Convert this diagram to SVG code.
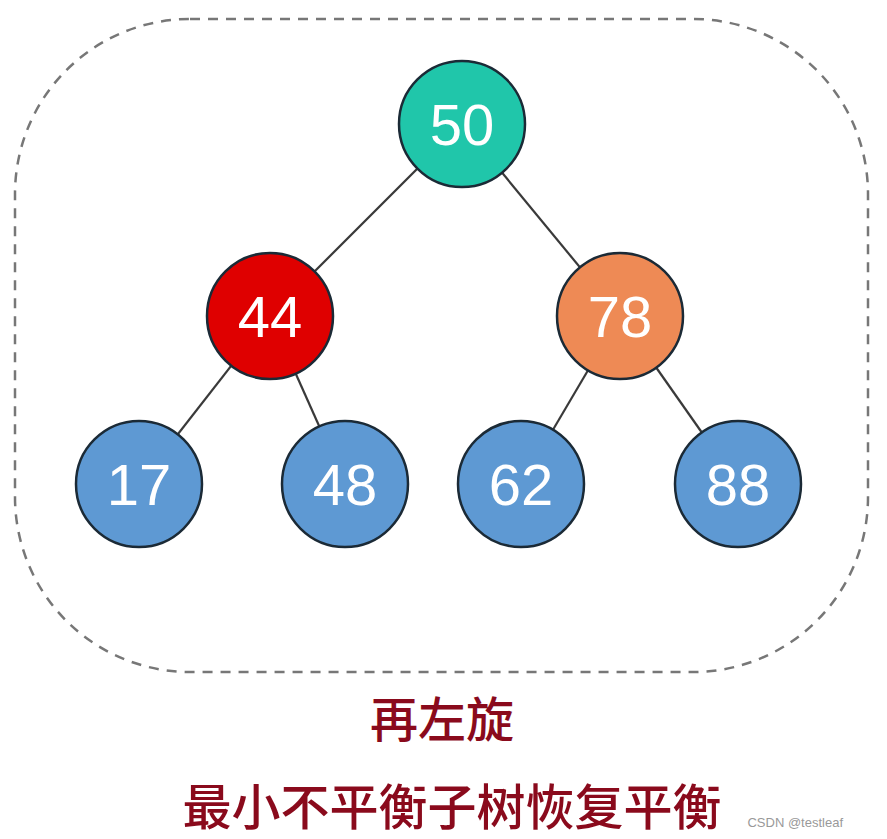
<svg xmlns="http://www.w3.org/2000/svg" width="887" height="839" viewBox="0 0 887 839">
<style>
.node{stroke:#1b2a36;stroke-width:2.5}
.lbl{font-family:"Liberation Sans",Arial,sans-serif;font-size:58px;fill:#ffffff;text-anchor:middle;dominant-baseline:central}
.edge{stroke:#3a3a3a;stroke-width:2.2}
.cap{font-family:"Noto Sans CJK SC","Noto Sans",sans-serif;fill:#8a0a1c;font-weight:500;text-anchor:middle}
</style>
<rect width="887" height="839" fill="#ffffff"/>
<rect x="15" y="19" width="853" height="653" rx="175" ry="175" fill="none" stroke="#777777" stroke-width="2.5" stroke-dasharray="10 8"/>
<g id="connectors">
<line class="edge" x1="462" y1="124" x2="270" y2="316"/>
<line class="edge" x1="462" y1="124" x2="620" y2="316"/>
<line class="edge" x1="270" y1="316" x2="139" y2="484"/>
<line class="edge" x1="270" y1="316" x2="345" y2="484"/>
<line class="edge" x1="620" y1="316" x2="521" y2="484"/>
<line class="edge" x1="620" y1="316" x2="738" y2="484"/>
</g>
<g id="n50"><circle class="node" cx="462" cy="124" r="63" fill="#20c6aa"/><text class="lbl" x="462" y="124">50</text></g>
<g id="n44"><circle class="node" cx="270" cy="316" r="63" fill="#df0000"/><text class="lbl" x="270" y="316">44</text></g>
<g id="n78"><circle class="node" cx="620" cy="316" r="63" fill="#ee8a55"/><text class="lbl" x="620" y="316">78</text></g>
<g id="n17"><circle class="node" cx="139" cy="484" r="63" fill="#5e99d3"/><text class="lbl" x="139" y="484">17</text></g>
<g id="n48"><circle class="node" cx="345" cy="484" r="63" fill="#5e99d3"/><text class="lbl" x="345" y="484">48</text></g>
<g id="n62"><circle class="node" cx="521" cy="484" r="63" fill="#5e99d3"/><text class="lbl" x="521" y="484">62</text></g>
<g id="n88"><circle class="node" cx="738" cy="484" r="63" fill="#5e99d3"/><text class="lbl" x="738" y="484">88</text></g>
<text class="cap" x="442" y="737" font-size="48">再左旋</text>
<text class="cap" x="452" y="825" font-size="49">最小不平衡子树恢复平衡</text>
<text x="843" y="827" font-family="Liberation Sans,Arial,sans-serif" font-size="13" fill="#999999" text-anchor="end">CSDN @testleaf</text>
</svg>
